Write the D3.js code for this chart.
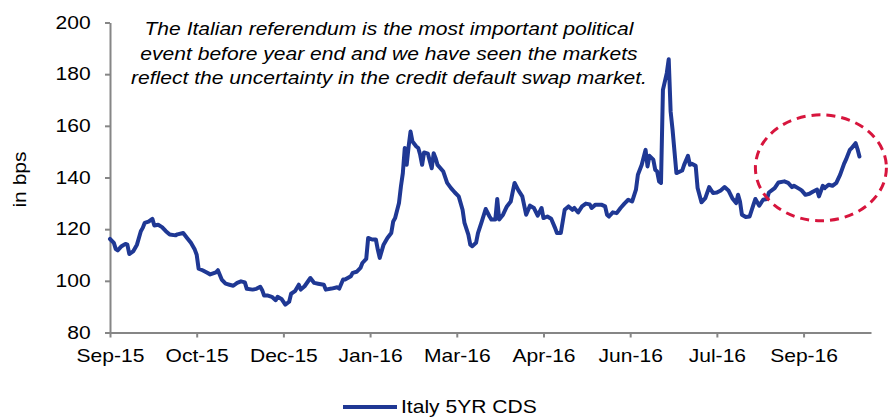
<!DOCTYPE html>
<html>
<head>
<meta charset="utf-8">
<script src="https://cdn.jsdelivr.net/npm/d3@7"></script>
<style>
  html, body { margin: 0; padding: 0; background: #fff; }
  svg { display: block; }
</style>
</head>
<body>
<svg id="chart" width="888" height="417"></svg>
<script>
// Italy 5-year CDS spread, in basis points
const dates = [
  "2015-09-07","2015-09-09","2015-09-10","2015-09-11","2015-09-13","2015-09-15","2015-09-16","2015-09-17",
  "2015-09-19","2015-09-21","2015-09-23","2015-09-24","2015-09-25","2015-09-27","2015-09-29","2015-09-30",
  "2015-10-02","2015-10-04","2015-10-06","2015-10-08","2015-10-11","2015-10-12","2015-10-15","2015-10-17",
  "2015-10-19","2015-10-21","2015-10-22","2015-10-23","2015-10-25","2015-10-27","2015-10-29","2015-11-01",
  "2015-11-02","2015-11-04","2015-11-06","2015-11-08","2015-11-10","2015-11-12","2015-11-14","2015-11-16",
  "2015-11-17","2015-11-20","2015-11-22","2015-11-24","2015-11-25","2015-11-26","2015-11-28","2015-11-30",
  "2015-12-02","2015-12-03","2015-12-05","2015-12-07","2015-12-09","2015-12-10","2015-12-12","2015-12-14",
  "2015-12-15","2015-12-17","2015-12-20","2015-12-22","2015-12-24","2015-12-27","2015-12-28","2015-12-31",
  "2016-01-03","2016-01-04","2016-01-06","2016-01-07","2016-01-10","2016-01-11","2016-01-13","2016-01-15",
  "2016-01-16","2016-01-18","2016-01-19","2016-01-21","2016-01-23","2016-01-24","2016-01-25","2016-01-27",
  "2016-01-29","2016-01-31","2016-02-01","2016-02-02","2016-02-04","2016-02-05","2016-02-06","2016-02-07",
  "2016-02-08","2016-02-09","2016-02-10","2016-02-11","2016-02-13","2016-02-14","2016-02-15","2016-02-16",
  "2016-02-17","2016-02-19","2016-02-21","2016-02-22","2016-02-23","2016-02-24","2016-02-27","2016-02-29",
  "2016-03-02","2016-03-04","2016-03-06","2016-03-08","2016-03-09","2016-03-11","2016-03-12","2016-03-13",
  "2016-03-15","2016-03-16","2016-03-18","2016-03-20","2016-03-22","2016-03-23","2016-03-25","2016-03-26",
  "2016-03-27","2016-03-29","2016-03-31","2016-04-02","2016-04-04","2016-04-06","2016-04-08","2016-04-10",
  "2016-04-12","2016-04-14","2016-04-16","2016-04-18","2016-04-19","2016-04-21","2016-04-23","2016-04-25",
  "2016-04-26","2016-04-28","2016-04-30","2016-05-02","2016-05-04","2016-05-05","2016-05-07","2016-05-09",
  "2016-05-11","2016-05-13","2016-05-14","2016-05-16","2016-05-19","2016-05-21","2016-05-22","2016-05-23",
  "2016-05-25","2016-05-27","2016-05-29","2016-05-31","2016-06-02","2016-06-04","2016-06-06","2016-06-07",
  "2016-06-09","2016-06-11","2016-06-12","2016-06-13","2016-06-15","2016-06-16","2016-06-17","2016-06-18",
  "2016-06-19","2016-06-20","2016-06-22","2016-06-23","2016-06-24","2016-06-25","2016-06-27","2016-06-30",
  "2016-07-01","2016-07-03","2016-07-04","2016-07-05","2016-07-07","2016-07-08","2016-07-10","2016-07-12",
  "2016-07-14","2016-07-16","2016-07-18","2016-07-20","2016-07-22","2016-07-24","2016-07-26","2016-07-28",
  "2016-07-29","2016-07-30","2016-07-31","2016-08-02","2016-08-04","2016-08-06","2016-08-07","2016-08-09",
  "2016-08-11","2016-08-13","2016-08-14","2016-08-17","2016-08-19","2016-08-22","2016-08-24","2016-08-26",
  "2016-08-27","2016-08-30","2016-08-31","2016-09-02","2016-09-04","2016-09-06","2016-09-08","2016-09-09",
  "2016-09-11","2016-09-12","2016-09-14","2016-09-16","2016-09-18","2016-09-20","2016-09-22","2016-09-23",
  "2016-09-25","2016-09-26","2016-09-28","2016-09-29","2016-09-30"
];

const italyCds = [
  116.2,114.7,112.3,111.8,113.4,114.3,114.0,110.4,
  111.4,114.0,119.2,120.5,122.4,122.9,124.0,121.4,
  121.7,120.8,119.2,117.9,117.6,118.0,118.5,116.6,
  114.7,112.1,110.1,104.7,104.1,103.3,102.5,103.3,
  104.1,100.5,98.9,98.5,98.1,99.2,99.8,99.4,
  96.9,96.6,96.9,97.7,96.4,94.3,94.3,93.8,
  92.5,93.8,93.0,90.8,91.9,95.0,96.0,98.5,
  96.6,97.9,101.1,99.2,98.9,98.5,96.6,97.0,
  97.5,97.0,100.5,100.5,101.8,103.1,103.5,105.0,
  106.9,108.5,116.6,116.0,116.0,112.1,108.9,114.0,
  116.6,118.5,123.0,124.3,130.1,136.5,141.7,151.4,
  144.9,152.0,157.8,153.9,152.0,151.4,148.8,144.9,
  149.7,149.2,143.6,149.4,147.5,144.9,142.3,137.9,
  135.9,134.2,132.7,127.5,122.4,117.9,114.0,113.4,
  114.7,118.5,123.0,127.8,124.9,123.7,123.7,131.7,
  123.7,125.6,128.8,130.7,137.9,135.0,132.7,125.6,
  129.1,128.2,125.2,128.2,124.3,124.9,124.0,120.5,
  118.5,118.5,127.5,128.8,127.5,128.2,126.5,128.8,
  129.9,129.6,128.2,129.5,129.5,128.8,125.6,124.9,
  126.5,126.2,128.2,129.9,131.4,130.7,135.3,141.1,
  144.9,150.7,144.3,148.4,146.9,143.0,142.3,138.5,
  137.9,173.9,180.4,185.8,165.5,158.5,141.7,142.7,
  144.9,148.4,144.9,145.3,144.5,135.9,130.4,132.0,
  136.3,134.0,134.2,135.0,136.3,135.0,132.0,130.1,
  133.3,130.7,125.6,124.7,124.9,129.5,131.7,129.1,
  131.4,131.7,134.2,135.9,138.1,138.5,137.9,136.3,
  136.8,135.5,135.0,133.3,133.7,134.6,135.3,132.7,
  136.8,135.9,137.2,136.8,137.9,141.1,145.3,146.9,
  150.7,151.4,153.3,151.0,148.1
];

// Axis definitions
const xDomain = ["2015-09-07", "2016-10-06"];
const xTickDates = ["2015-09-07","2015-10-22","2015-12-06","2016-01-20","2016-03-05",
                    "2016-04-19","2016-06-03","2016-07-18","2016-09-01"];
const yTicks = [80, 100, 120, 140, 160, 180, 200];
const seriesName = "Italy 5YR CDS";
const yTitle = "in bps";
const noteLines = [
  "The Italian referendum is the most important political",
  "event before year end and we have seen the markets",
  "reflect the uncertainty in the credit default swap market."
];
// highlighted window: centre date/value and half-extents (days, bps)
const highlightCentre = ["2016-09-10", 143.75];
const highlightHalf = [34, 20.5];

const parse = d3.utcParse("%Y-%m-%d");
const fmt = d3.utcFormat("%b-%y");
const data = dates.map((d, i) => ({ date: parse(d), value: italyCds[i] }));

const FONT = "'Liberation Sans', Arial, Helvetica, sans-serif";
const WIDEN = 1.17;            // horizontal widening of the label glyphs
const LINE_COLOR = "#1f3894";
const AXIS_COLOR = "#868686";

const svg = d3.select("#chart");
const plot = { left: 110, right: 871, top: 22.5, bottom: 332.5 };

const x = d3.scaleUtc().domain(xDomain.map(parse)).range([plot.left, plot.right]);
const y = d3.scaleLinear().domain([80, 200]).range([plot.bottom, plot.top]);

// x axis
const gx = svg.append("g")
  .attr("transform", `translate(0,${plot.bottom})`)
  .call(d3.axisBottom(x).tickValues(xTickDates.map(parse)).tickFormat(fmt)
        .tickSize(5).tickSizeOuter(0).tickPadding(8));
gx.selectAll("text")
  .attr("y", 17)
  .attr("transform", `scale(${WIDEN},1)`)
  .attr("font-family", FONT).attr("font-size", 18).attr("fill", "#000");

// y axis
const gy = svg.append("g")
  .attr("transform", `translate(${plot.left},0)`)
  .call(d3.axisLeft(y).tickValues(yTicks).tickSize(5).tickSizeOuter(0));
gy.selectAll("text")
  .attr("x", -16.5)
  .attr("transform", `scale(${WIDEN},1)`)
  .attr("font-family", FONT).attr("font-size", 18).attr("fill", "#000");

svg.selectAll(".domain, .tick line")
  .attr("stroke", AXIS_COLOR).attr("stroke-width", 2);

// y axis title
svg.append("text")
  .attr("transform", `translate(26,${(plot.top + plot.bottom) / 2 + 2}) rotate(-90) scale(${WIDEN},1)`)
  .attr("text-anchor", "middle")
  .attr("font-family", FONT).attr("font-size", 18).attr("fill", "#000")
  .text(yTitle);

// series line
const line = d3.line().x(d => x(d.date)).y(d => y(d.value));
svg.append("path")
  .datum(data)
  .attr("d", line)
  .attr("fill", "none")
  .attr("stroke", LINE_COLOR)
  .attr("stroke-width", 4)
  .attr("stroke-linejoin", "round")
  .attr("stroke-linecap", "round");

// dashed highlight ellipse
const cDate = parse(highlightCentre[0]);
const cx = x(cDate), cy = y(highlightCentre[1]);
const rx = x(d3.utcDay.offset(cDate, highlightHalf[0])) - cx;
const ry = y(highlightCentre[1] - highlightHalf[1]) - cy;
svg.append("ellipse")
  .attr("cx", cx).attr("cy", cy).attr("rx", rx).attr("ry", ry)
  .attr("fill", "none")
  .attr("stroke", "#d7153d")
  .attr("stroke-width", 3)
  .attr("stroke-dasharray", "9,6");

// annotation
const note = svg.append("g");
noteLines.forEach((t, i) => {
  note.append("text")
    .attr("transform", `translate(389,${35 + i * 24.5}) scale(${WIDEN},1)`)
    .attr("text-anchor", "middle")
    .attr("font-family", FONT).attr("font-size", 18).attr("font-style", "italic")
    .attr("fill", "#000")
    .text(t);
});

// legend
const lg = svg.append("g").attr("transform", "translate(343,407)");
lg.append("line")
  .attr("x1", 0).attr("x2", 54).attr("y1", 0).attr("y2", 0)
  .attr("stroke", LINE_COLOR).attr("stroke-width", 4);
lg.append("text")
  .attr("transform", `translate(58,6) scale(${WIDEN},1)`)
  .attr("font-family", FONT).attr("font-size", 18).attr("fill", "#000")
  .text(seriesName);
</script>
</body>
</html>
